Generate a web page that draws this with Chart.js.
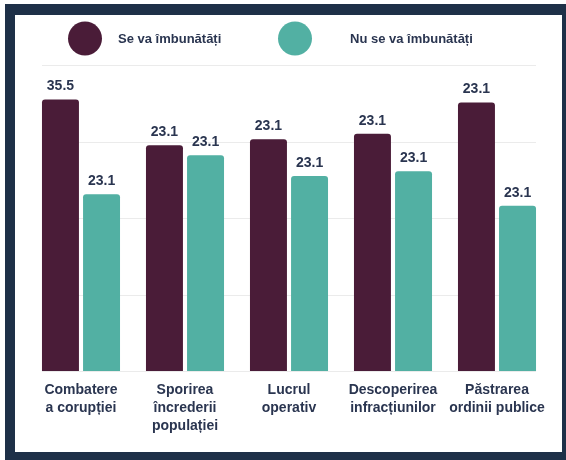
<!DOCTYPE html>
<html>
<head>
<meta charset="utf-8">
<script src="https://cdn.jsdelivr.net/npm/chart.js@4"></script>
<style>
  html, body { margin: 0; padding: 0; background: #fff; }
  #frame {
    position: absolute; left: 5px; top: 4px;
    width: 547px; height: 437px;
    border-style: solid; border-color: #1e3048;
    border-width: 11px 4px 8px 10px;
    background: #fff;
  }
  #wrap { position: relative; width: 547px; height: 437px; }
</style>
</head>
<body>
<div id="frame"><div id="wrap"><canvas id="chart"></canvas></div></div>
<script>
"use strict";

const categories = [
  ['Combatere', 'a corupției'],
  ['Sporirea', 'încrederii', 'populației'],
  ['Lucrul', 'operativ'],
  ['Descoperirea', 'infracțiunilor'],
  ['Păstrarea', 'ordinii publice']
];
const seriesNames = ['Se va îmbunătăți', 'Nu se va îmbunătăți'];
const improve = [35.5, 29.5, 30.3, 31.0, 35.1];
const noImprove = [23.1, 28.2, 25.5, 26.1, 21.6];
// value labels as printed above the bars
const improveLabels = ['35.5', '23.1', '23.1', '23.1', '23.1'];
const noImproveLabels = ['23.1', '23.1', '23.1', '23.1', '23.1'];
const gridValues = [0, 10, 20, 30, 40];

const MAROON = '#4a1c38';
const TEAL = '#52b0a3';
const TEXT = '#2a3550';
const FONT = '"Liberation Sans", Arial, sans-serif';

const gridPlugin = {
  id: 'shortGrid',
  beforeDatasetsDraw(chart) {
    const { ctx } = chart;
    const y = chart.scales.y;
    const first = chart.getDatasetMeta(0).data[0];
    const last = chart.getDatasetMeta(1).data.at(-1);
    const x0 = first.x - first.width / 2;
    const x1 = last.x + last.width / 2;
    ctx.save();
    ctx.strokeStyle = '#ebebeb';
    ctx.lineWidth = 1;
    gridValues.forEach(v => {
      const py = Math.round(y.getPixelForValue(v)) + 0.5;
      ctx.beginPath();
      ctx.moveTo(x0, py);
      ctx.lineTo(x1, py);
      ctx.stroke();
    });
    ctx.restore();
  }
};

const valueLabelPlugin = {
  id: 'valueLabels',
  afterDatasetsDraw(chart) {
    const { ctx } = chart;
    const labelSets = [improveLabels, noImproveLabels];
    ctx.save();
    ctx.font = 'bold 14px ' + FONT;
    ctx.fillStyle = TEXT;
    ctx.textAlign = 'center';
    ctx.textBaseline = 'alphabetic';
    chart.data.datasets.forEach((ds, d) => {
      chart.getDatasetMeta(d).data.forEach((bar, i) => {
        ctx.fillText(labelSets[d][i], bar.x, bar.y - 9);
      });
    });
    ctx.restore();
  }
};

const legendPlugin = {
  id: 'bigLegend',
  afterDraw(chart) {
    const { ctx } = chart;
    const items = [
      { cx: 70, tx: 103, color: MAROON, text: seriesNames[0] },
      { cx: 280, tx: 335, color: TEAL, text: seriesNames[1] }
    ];
    ctx.save();
    ctx.font = 'bold 13px ' + FONT;
    ctx.textBaseline = 'middle';
    ctx.textAlign = 'left';
    items.forEach(it => {
      ctx.fillStyle = it.color;
      ctx.beginPath();
      ctx.arc(it.cx, 23.5, 17, 0, Math.PI * 2);
      ctx.fill();
      ctx.fillStyle = TEXT;
      ctx.fillText(it.text, it.tx, 24);
    });
    ctx.restore();
  }
};

new Chart(document.getElementById('chart'), {
  type: 'bar',
  data: {
    labels: categories,
    datasets: [
      { label: seriesNames[0], data: improve, backgroundColor: MAROON },
      { label: seriesNames[1], data: noImprove, backgroundColor: TEAL }
    ]
  },
  options: {
    responsive: true,
    maintainAspectRatio: false,
    animation: false,
    layout: { padding: { top: 50, left: 14, right: 13, bottom: 0 } },
    datasets: {
      bar: { categoryPercentage: 0.79, barPercentage: 0.9, borderRadius: 3 }
    },
    plugins: {
      legend: { display: false },
      tooltip: { enabled: false }
    },
    scales: {
      y: { display: false, min: 0, max: 40 },
      x: {
        grid: { display: false, drawTicks: false },
        border: { display: false },
        ticks: {
          color: TEXT,
          font: { family: FONT, size: 14, weight: 'bold', lineHeight: 1.3 },
          padding: 10,
          maxRotation: 0,
          autoSkip: false
        },
        afterFit(scale) { scale.height = 81; }
      }
    }
  },
  plugins: [gridPlugin, valueLabelPlugin, legendPlugin]
});
</script>
</body>
</html>
